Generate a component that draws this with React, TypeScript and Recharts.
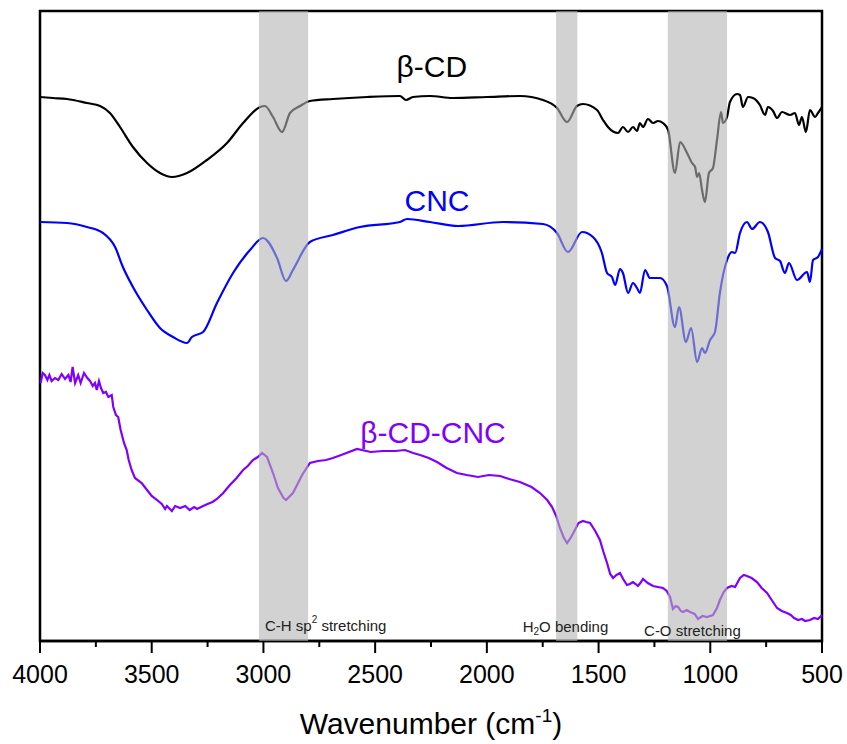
import React from "react";
import {
  LineChart,
  Line,
  XAxis,
  YAxis,
  ReferenceArea,
  ReferenceDot,
} from "recharts";

// FTIR spectra, [wavenumber (cm-1), offset transmittance (a.u.)]
const betaCd: [number, number][] = [
  [4000, 544], [3942, 543], [3879, 542], [3790, 538], [3731, 535], [3687, 528],
  [3642, 514], [3584, 494], [3521, 478], [3463, 468], [3409, 464], [3342, 468],
  [3253, 481], [3163, 498], [3091, 518], [3015, 534], [2993, 535], [2957, 524],
  [2917, 509], [2881, 528], [2836, 535], [2792, 540], [2689, 542], [2536, 544],
  [2389, 545], [2362, 541], [2331, 544], [2255, 545], [2152, 543], [2000, 544],
  [1852, 545], [1749, 541], [1686, 533], [1641, 519], [1597, 535], [1570, 537],
  [1507, 531], [1480, 521], [1458, 514], [1413, 508], [1391, 514], [1368, 509],
  [1346, 514], [1328, 510], [1315, 518], [1301, 514], [1279, 522], [1256, 518],
  [1234, 520], [1212, 518], [1189, 511], [1158, 468], [1135, 499], [1104, 488],
  [1082, 478], [1068, 474], [1059, 464], [1050, 468], [1037, 451], [1024, 439],
  [1006, 468], [988, 473], [970, 501], [952, 529], [943, 518], [925, 524],
  [912, 539], [880, 547], [867, 546], [854, 534], [831, 544], [809, 543],
  [778, 536], [755, 526], [742, 534], [719, 530], [701, 523], [679, 529],
  [643, 526], [621, 528], [603, 516], [590, 524], [572, 509], [554, 531],
  [531, 524], [518, 528], [500, 534],
];

const cnc: [number, number][] = [
  [4000, 419], [3879, 418], [3790, 414], [3718, 408], [3664, 394], [3629, 374],
  [3584, 354], [3521, 331], [3463, 313], [3405, 304], [3342, 298], [3320, 304],
  [3270, 309], [3208, 338], [3136, 368], [3060, 391], [3002, 403], [2939, 383],
  [2899, 360], [2868, 371], [2792, 399], [2689, 406], [2568, 414], [2389, 419],
  [2357, 422], [2255, 419], [2129, 415], [1928, 419], [1749, 417], [1686, 408],
  [1637, 389], [1574, 409], [1525, 404], [1485, 388], [1462, 368], [1440, 364],
  [1426, 356], [1404, 372], [1391, 368], [1368, 348], [1346, 358], [1328, 353],
  [1315, 348], [1292, 371], [1270, 363], [1225, 363], [1194, 355], [1158, 314],
  [1140, 334], [1109, 299], [1086, 313], [1059, 279], [1037, 293], [1024, 288],
  [1001, 301], [979, 309], [957, 348], [925, 381], [903, 389], [889, 388],
  [867, 408], [836, 419], [813, 412], [778, 419], [742, 409], [710, 383],
  [688, 380], [666, 368], [648, 378], [612, 361], [567, 369], [554, 359],
  [540, 381], [518, 384], [500, 392],
];

const betaCdCnc: [number, number][] = [
  [3997, 258], [3988, 268], [3978, 266], [3967, 261], [3958, 266], [3948, 260],
  [3933, 263], [3918, 261], [3903, 267], [3888, 262], [3873, 266], [3863, 259],
  [3854, 274], [3843, 258], [3829, 266], [3818, 258], [3803, 268], [3788, 263],
  [3776, 260], [3764, 255], [3754, 258], [3746, 251], [3736, 260], [3727, 253],
  [3717, 248], [3705, 249], [3694, 244], [3679, 246], [3672, 234], [3660, 226],
  [3650, 224], [3639, 211], [3624, 198], [3612, 191], [3603, 181], [3590, 171],
  [3575, 163], [3545, 158], [3521, 151], [3500, 145], [3476, 141], [3455, 137],
  [3440, 132], [3432, 135], [3410, 130], [3395, 135], [3373, 133], [3350, 135],
  [3330, 131], [3310, 134], [3297, 132], [3270, 135], [3250, 137], [3228, 139],
  [3208, 142], [3180, 148], [3150, 156], [3120, 163], [3091, 171], [3070, 175],
  [3047, 181], [3025, 184], [3006, 188], [2984, 184], [2957, 168], [2935, 153],
  [2910, 143], [2899, 141], [2868, 148], [2845, 158], [2827, 166], [2792, 178],
  [2756, 180], [2720, 181], [2689, 183], [2640, 187], [2581, 192], [2520, 189],
  [2465, 190], [2410, 190], [2366, 191], [2330, 188], [2299, 186], [2260, 183],
  [2223, 179], [2180, 173], [2134, 168], [2090, 166], [2040, 164], [1990, 166],
  [1941, 165], [1900, 162], [1852, 159], [1800, 154], [1762, 148], [1730, 141],
  [1708, 134], [1690, 125], [1673, 113], [1655, 103], [1641, 98], [1625, 103],
  [1606, 111], [1590, 118], [1570, 120], [1555, 119], [1538, 118], [1515, 110],
  [1494, 101], [1478, 89], [1462, 78], [1448, 67], [1435, 63], [1420, 66],
  [1404, 68], [1390, 62], [1373, 56], [1360, 57], [1346, 59], [1334, 57],
  [1324, 55], [1313, 58], [1301, 62], [1280, 58], [1256, 55], [1235, 54],
  [1212, 53], [1195, 50], [1180, 44], [1167, 32], [1155, 35], [1144, 34],
  [1132, 30], [1122, 29], [1105, 31], [1091, 29], [1070, 27], [1055, 22],
  [1035, 25], [1015, 24], [988, 26], [970, 33], [957, 41], [940, 49], [925, 53],
  [905, 55], [889, 54], [867, 63], [850, 66], [836, 65], [815, 63], [791, 59],
  [770, 53], [746, 48], [725, 41], [701, 33], [680, 30], [657, 28], [640, 26],
  [625, 23], [607, 21], [590, 22], [575, 20], [554, 21], [535, 23], [518, 22],
  [500, 26],
];

const seriesNames = ["β-CD", "CNC", "β-CD-CNC"];
const seriesColors = ["#000000", "#0000ff", "#8000ff"];
const seriesCurve = ["monotone", "monotone", "linear"] as const;
const seriesLabelW = [2246, 2223, 2241];
const seriesLabelV = [575, 441, 209];

// shaded band regions (cm-1)
const bandFrom = [3020, 1690, 1190];
const bandTo = [2800, 1595, 925];
const bandLabelW = [2993, 1648, 1080];
const bandLabelV = [16, 15, 11];

const xTicks = [4000, 3750, 3500, 3250, 3000, 2750, 2500, 2250, 2000, 1750, 1500, 1250, 1000, 750, 500];

const toPoints = (rows: [number, number][]) => rows.map(([w, v]) => ({ w, v }));
const series = [toPoints(betaCd), toPoints(cnc), toPoints(betaCdCnc)];

const FONT = "Liberation Sans, Arial, sans-serif";

function XTick(props: any) {
  const { x, y, payload } = props;
  const major = payload.value % 500 === 0;
  return (
    <g>
      <line x1={x} y1={y} x2={x} y2={y + (major ? 12 : 6)} stroke="#000" strokeWidth={2} />
      {major && (
        <text x={x} y={y + 42} textAnchor="middle" fontSize={25} fontFamily={FONT} fill="#000">
          {payload.value}
        </text>
      )}
    </g>
  );
}

function AxisTitle(props: any) {
  const { x, y, width } = props.viewBox;
  return (
    <text x={x + width / 2} y={y + 93} textAnchor="middle" fontSize={30} fontFamily={FONT} fill="#000">
      Wavenumber (cm
      <tspan fontSize={19} dy={-12}>-1</tspan>
      <tspan dy={12}>)</tspan>
    </text>
  );
}

function bandText(i: number) {
  return (props: any) => {
    const { x, y } = props.viewBox;
    const common = { fontSize: 15, fontFamily: FONT, fill: "#222", dominantBaseline: "central" as const };
    if (i === 0) {
      return (
        <text x={x} y={y} textAnchor="start" {...common}>
          C-H sp<tspan fontSize={10} dy={-6}>2</tspan>
          <tspan dy={6}> stretching</tspan>
        </text>
      );
    }
    if (i === 1) {
      return (
        <text x={x} y={y} textAnchor="middle" {...common}>
          H<tspan fontSize={10} dy={5}>2</tspan>
          <tspan dy={-5}>O bending</tspan>
        </text>
      );
    }
    return (
      <text x={x} y={y} textAnchor="middle" {...common}>
        C-O stretching
      </text>
    );
  };
}

function seriesText(i: number) {
  return (props: any) => {
    const { x, y } = props.viewBox;
    return (
      <text
        x={x}
        y={y}
        textAnchor="middle"
        dominantBaseline="central"
        fontSize={30}
        fontFamily={FONT}
        fill={seriesColors[i]}
      >
        {seriesNames[i]}
      </text>
    );
  };
}

export default function App() {
  return (
    <div style={{ position: "absolute", left: 0, top: 0, background: "#fff" }}>
      <LineChart width={847} height={744} margin={{ top: 11, right: 25, left: 40, bottom: 3 }}>
        <XAxis
          dataKey="w"
          type="number"
          domain={[500, 4000]}
          reversed
          ticks={xTicks}
          interval={0}
          height={100}
          tickSize={0}
          tickMargin={0}
          tickLine={false}
          tick={<XTick />}
          axisLine={{ stroke: "#000", strokeWidth: 2.5 }}
          label={{ content: <AxisTitle /> }}
        />
        <YAxis
          type="number"
          domain={[0, 630]}
          width={0}
          tick={false}
          tickLine={false}
          axisLine={{ stroke: "#000", strokeWidth: 2.5 }}
        />
        {/* plot frame */}
        <ReferenceArea
          x1={4000}
          x2={500}
          y1={0}
          y2={630}
          fill="none"
          fillOpacity={0}
          stroke="#000"
          strokeWidth={2.5}
        />
        {series.map((data, i) => (
          <Line
            key={seriesNames[i]}
            data={data}
            dataKey="v"
            type={seriesCurve[i]}
            stroke={seriesColors[i]}
            strokeWidth={2.2}
            dot={false}
            activeDot={false}
            isAnimationActive={false}
          />
        ))}
        {bandFrom.map((from, i) => (
          <ReferenceArea
            key={`band-${i}`}
            x1={from}
            x2={bandTo[i]}
            y1={0}
            y2={630}
            fill="#b4b4b4"
            fillOpacity={0.6}
            stroke="none"
            zIndex={600}
          />
        ))}
        {bandLabelW.map((w, i) => (
          <ReferenceDot
            key={`band-label-${i}`}
            x={w}
            y={bandLabelV[i]}
            r={0}
            fill="none"
            stroke="none"
            label={{ content: bandText(i) }}
          />
        ))}
        {seriesLabelW.map((w, i) => (
          <ReferenceDot
            key={`series-label-${i}`}
            x={w}
            y={seriesLabelV[i]}
            r={0}
            fill="none"
            stroke="none"
            label={{ content: seriesText(i) }}
          />
        ))}
      </LineChart>
    </div>
  );
}
